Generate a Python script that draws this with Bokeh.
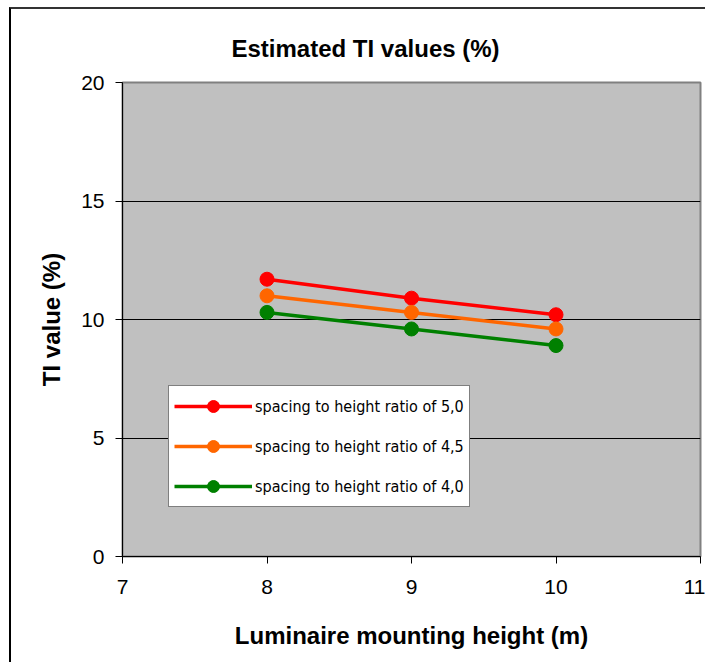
from bokeh.plotting import figure
from bokeh.models import Range1d, Legend, LegendItem, FixedTicker, ColumnDataSource
from bokeh.embed import file_html
from bokeh.resources import INLINE

heights = [8, 9, 10]
ratio_50 = [11.7, 10.9, 10.2]
ratio_45 = [11.0, 10.3, 9.6]
ratio_40 = [10.3, 9.6, 8.9]
series_labels = ["spacing to height ratio of 5,0", "spacing to height ratio of 4,5", "spacing to height ratio of 4,0"]
series_colors = ["#ff0000", "#ff6600", "#008000"]
x_ticks = [7, 8, 9, 10, 11]
y_ticks = [0, 5, 10, 15, 20]
title_text = "Estimated TI values (%)"
x_label = "Luminaire mounting height (m)"
y_label = "TI value (%)"

FONT = "Liberation Sans"
COND = "DejaVu Sans Condensed"

p = figure(width=696, height=655, output_backend="svg", toolbar_location=None,
           x_range=Range1d(7, 11), y_range=Range1d(0, 20),
           min_border_left=111, min_border_top=73, min_border_right=7, min_border_bottom=108)
p.styles = {"border-left": "2px solid #000000", "border-top": "2px solid #333333",
            "margin-left": "9px", "margin-top": "7px"}
p.background_fill_color = "#c0c0c0"
p.border_fill_color = "white"
p.outline_line_color = "#808080"
p.outline_line_width = 2

p.title.text = title_text
p.title.text_font = FONT
p.title.text_font_size = "24px"
p.title.text_font_style = "bold"
p.title.text_color = "black"
p.title.align = "left"
p.title.offset = 109
p.title.standoff = 41

p.xgrid.visible = False
p.ygrid.grid_line_color = "black"
p.ygrid.grid_line_width = 1
p.ygrid.ticker = FixedTicker(ticks=y_ticks)

for ax in (p.xaxis[0], p.yaxis[0]):
    ax.axis_line_color = "black"
    ax.axis_line_width = 1
    ax.major_tick_line_color = "black"
    ax.major_tick_out = 7
    ax.major_tick_in = 0
    ax.minor_tick_line_color = None
    ax.major_label_text_font = FONT
    ax.major_label_text_font_size = "21px"
    ax.major_label_text_color = "black"
    ax.axis_label_text_font = FONT
    ax.axis_label_text_font_size = "24px"
    ax.axis_label_text_font_style = "bold"
    ax.axis_label_text_color = "black"

p.xaxis.ticker = FixedTicker(ticks=x_ticks)
p.yaxis.ticker = FixedTicker(ticks=y_ticks)
p.xaxis.axis_label = x_label
p.yaxis.axis_label = y_label
p.xaxis.major_label_standoff = 16
p.yaxis.major_label_standoff = 11
p.xaxis.axis_label_standoff = 25
p.yaxis.axis_label_standoff = 13

items = []
for vals, lab, col in zip([ratio_50, ratio_45, ratio_40], series_labels, series_colors):
    src = ColumnDataSource(dict(x=heights, y=vals))
    r1 = p.line("x", "y", source=src, line_color=col, line_width=3.5)
    r2 = p.scatter("x", "y", source=src, size=14, fill_color=col, line_color=col)
    items.append(LegendItem(label=lab, renderers=[r1, r2]))

legend = Legend(items=items, location=(46, 49), orientation="vertical")
legend.label_text_font = COND
legend.label_text_font_size = "16px"
legend.label_text_color = "black"
legend.glyph_width = 78
legend.glyph_height = 30
legend.label_standoff = 3
legend.spacing = 10
legend.padding = 5
legend.margin = 0
legend.border_line_color = "black"
legend.border_line_width = 1
legend.background_fill_color = "white"
legend.background_fill_alpha = 1
p.add_layout(legend, "center")

open("out.html", "w").write(file_html(p, INLINE))
